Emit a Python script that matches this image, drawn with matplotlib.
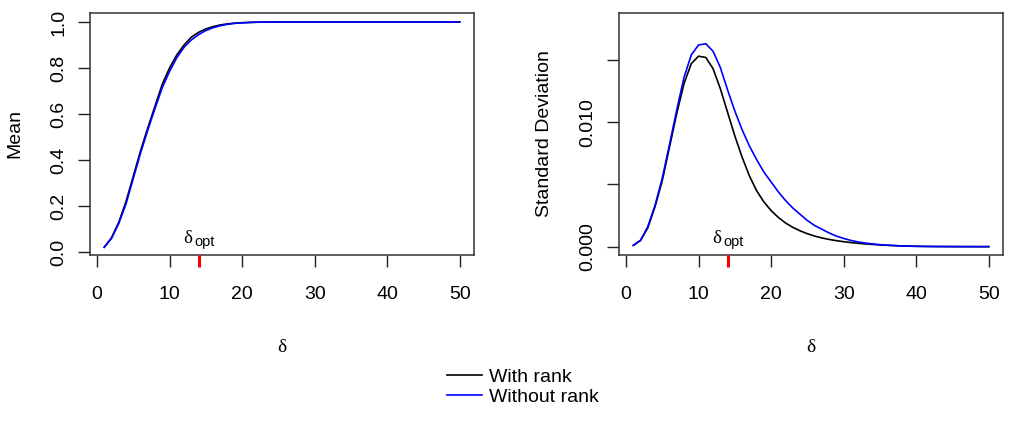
import numpy as np
import matplotlib
matplotlib.use("Agg")
import matplotlib.pyplot as plt
from matplotlib.lines import Line2D

plt.rcParams['font.family'] = ['Liberation Sans', 'DejaVu Sans']

# ---- data ----
delta = list(range(1, 51))

mean_with_rank = [0.022, 0.063, 0.13, 0.22, 0.33, 0.44, 0.54, 0.635, 0.73, 0.80,
                  0.857, 0.90, 0.934, 0.955, 0.97, 0.98, 0.987, 0.992, 0.995, 0.997,
                  0.998, 0.999, 0.9995, 0.9997, 0.9998] + [1.0] * 25
mean_without_rank = [0.022, 0.06, 0.125, 0.21, 0.32, 0.43, 0.53, 0.625, 0.715, 0.785,
                     0.845, 0.89, 0.922, 0.945, 0.963, 0.975, 0.984, 0.99, 0.994, 0.996,
                     0.998, 0.999, 0.9995, 0.9997, 0.9998] + [1.0] * 25

sd_with_rank = [0.0001, 0.0005, 0.0015, 0.0032, 0.0053, 0.0080, 0.0107, 0.0131, 0.0147, 0.0153,
                0.0152, 0.0143, 0.0127, 0.0108, 0.0089, 0.0072, 0.0057, 0.0045, 0.0036, 0.0029,
                0.00235, 0.0019, 0.00155, 0.00127, 0.00104, 0.00085, 0.0007, 0.00058, 0.00048, 0.0004,
                0.00033, 0.00027, 0.00022, 0.00018, 0.00014, 0.00011, 0.00008, 0.00006, 0.00004, 0.00003,
                0.00002, 0.000015, 0.00001, 0.000007, 0.000005, 0.000003, 0.000002, 0.000001, 0.0, 0.0]
sd_without_rank = [0.0001, 0.0005, 0.0016, 0.0033, 0.0055, 0.0082, 0.0110, 0.0136, 0.0154, 0.0162,
                   0.0163, 0.0157, 0.0144, 0.0126, 0.0109, 0.0094, 0.0081, 0.0070, 0.0060, 0.0052,
                   0.0044, 0.0037, 0.0031, 0.0026, 0.0021, 0.0017, 0.0014, 0.0011, 0.00085, 0.00066,
                   0.0005, 0.00038, 0.00029, 0.00022, 0.00016, 0.00012, 0.00009, 0.00006, 0.00004, 0.00003,
                   0.00002, 0.000015, 0.00001, 0.000007, 0.000005, 0.000003, 0.000002, 0.000001, 0.0, 0.0]

delta_opt = 14
x_ticks = [0, 10, 20, 30, 40, 50]
mean_ticks = [0.0, 0.2, 0.4, 0.6, 0.8, 1.0]
mean_ticklabels = ['0.0', '0.2', '0.4', '0.6', '0.8', '1.0']
sd_ticks = [0.0, 0.005, 0.010, 0.015]
sd_ticklabels = ['0.000', '', '0.010', '']
series_labels = ['With rank', 'Without rank']
colors = ['black', '#0000FF']

W, H = 1018, 426
fig = plt.figure(figsize=(W / 100, H / 100), dpi=100)

def box(l, r, t, b):
    return [l / W, 1 - b / H, (r - l) / W, (b - t) / H]

ax1 = fig.add_axes(box(90, 474, 13, 255))
ax2 = fig.add_axes(box(619, 1003, 13, 255))

FS = 14

def style(ax, ylim, yticks, yticklabels, ylabel):
    ax.set_xlim(-0.96, 51.96)
    ax.set_ylim(*ylim)
    ax.set_xticks(x_ticks)
    ax.set_xticklabels([str(t) for t in x_ticks], fontsize=FS)
    ax.set_yticks(yticks)
    ax.set_yticklabels(yticklabels, fontsize=FS, rotation=90, va='center')
    ax.tick_params(axis='x', length=8.5, width=1, pad=13.5, color='#222222')
    ax.tick_params(axis='y', length=8.5, width=1, pad=8, color='#222222')
    for s in ax.spines.values():
        s.set_color('#333333')
        s.set_linewidth(1.1)
    ax.set_xlabel('δ', fontsize=FS, family=['Liberation Serif', 'DejaVu Serif'], labelpad=26)
    ax.set_ylabel(ylabel, fontsize=FS, labelpad=19)

def mark_opt(ax):
    trans = ax.get_xaxis_transform()
    ax.plot([delta_opt, delta_opt], [0, -0.05], transform=trans, color='red',
            lw=2.2, clip_on=False, solid_capstyle='butt', zorder=5)
    ax.annotate('δ', xy=(delta_opt, 0), xycoords=trans, xytext=(-7.6, 8.6),
                textcoords='offset points', ha='center', va='baseline',
                fontsize=13.5, family=['Liberation Serif', 'DejaVu Serif'])
    ax.annotate('opt', xy=(delta_opt, 0), xycoords=trans, xytext=(-3, 6.6),
                textcoords='offset points', ha='left', va='baseline',
                fontsize=10.5)

ax1.plot(delta, mean_with_rank, color=colors[0], lw=1.2)
ax1.plot(delta, mean_without_rank, color=colors[1], lw=1.2)
style(ax1, (-0.0117, 1.039), mean_ticks, mean_ticklabels, 'Mean')
mark_opt(ax1)

ax2.plot(delta, sd_with_rank, color=colors[0], lw=1.2)
ax2.plot(delta, sd_without_rank, color=colors[1], lw=1.2)
style(ax2, (-0.00067, 0.01877), sd_ticks, sd_ticklabels, 'Standard Deviation')
mark_opt(ax2)

handles = [Line2D([], [], color=c, lw=1.2) for c in colors]
fig.legend(handles, series_labels, loc='center', bbox_to_anchor=(523 / W, 1 - 387 / H),
           frameon=False, fontsize=FS, handlelength=1.8, handletextpad=0.4,
           labelspacing=0.12, borderpad=0, borderaxespad=0)

fig.savefig('out.png', dpi=100)
